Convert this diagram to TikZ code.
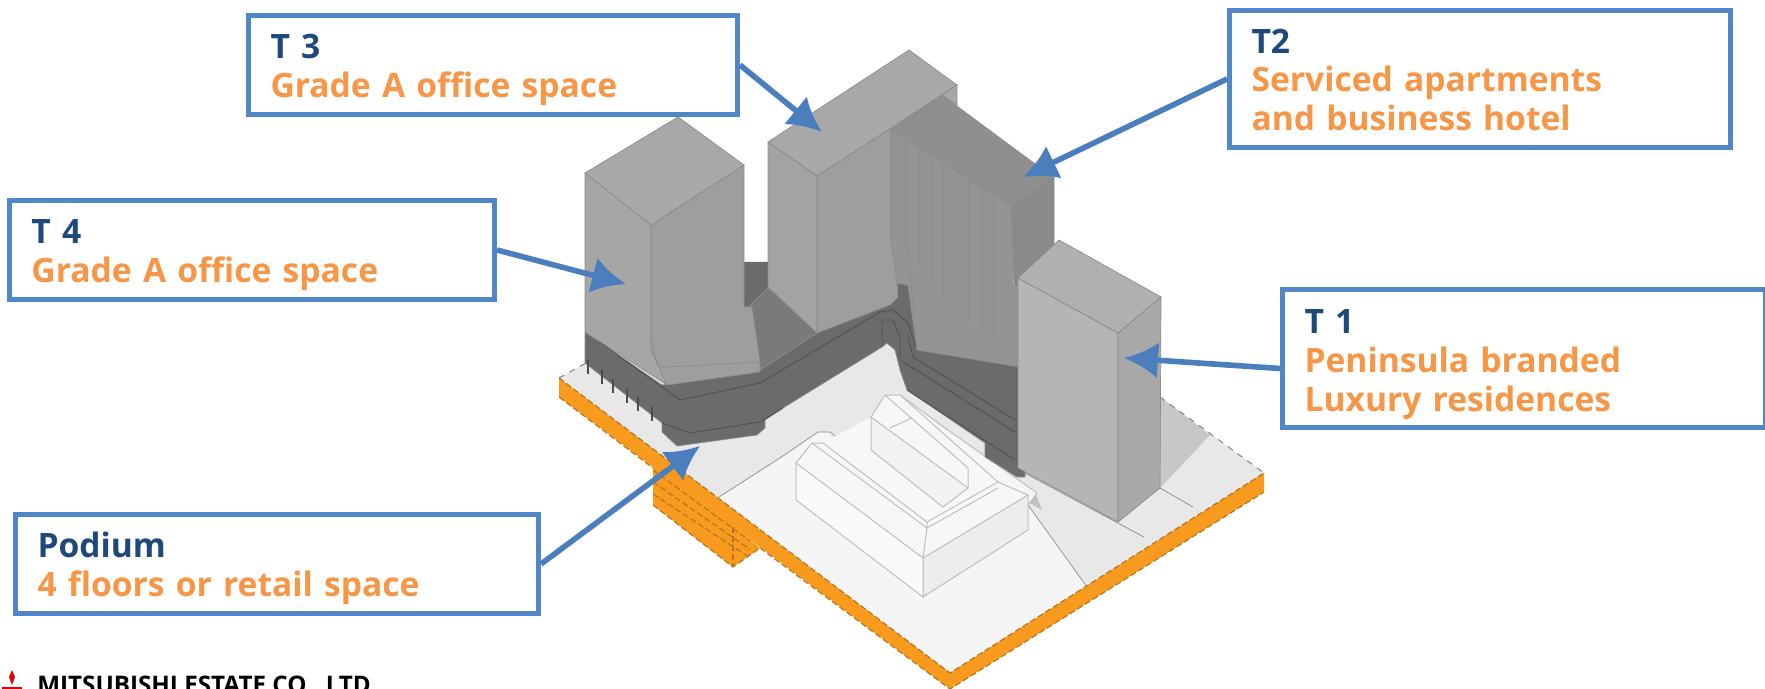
\documentclass[tikz,border=0pt]{standalone}
\usepackage{fontspec}
\setmainfont{Open Sans}
\usepackage{tikz}
\usetikzlibrary{arrows.meta}
\definecolor{boxblue}{HTML}{5087C8}
\definecolor{arrowblue}{HTML}{4A7EBD}
\definecolor{headblue}{HTML}{1F497D}
\definecolor{textorange}{HTML}{F79646}
\definecolor{plateorange}{HTML}{F79A1E}
\definecolor{dashbrown}{HTML}{B5771F}
\tikzset{
  callout/.style={draw=boxblue,line width=2.5pt,fill=white,anchor=north west,align=left,inner sep=0pt,
    text width=#1,font=\fontsize{16.8}{19.4}\selectfont\bfseries,text=textorange},
  pointer/.style={draw=arrowblue,line width=2.8pt,-{Latex[length=17pt,width=18pt]}},
  edge/.style={draw=black!45,line width=0.35pt},
  ledge/.style={draw=black!68,line width=0.45pt},
  block/.style={draw=black!25,line width=0.5pt},
  hem/.style={draw=dashbrown,line width=0.6pt,dash pattern=on 3pt off 1.5pt}
}
\begin{document}
\begin{tikzpicture}[x=0.5pt,y=-0.5pt]
\useasboundingbox (0,0) rectangle (1765,689);

% site plate
\fill[black!9] (559,378) -- (586,363) -- (883,320) -- (899,327) -- (1017,477) -- (1160,397) -- (1264,473) -- (950,673) -- cycle;
\fill[black!4] (719,497) -- (780,458) -- (818,432) -- (830,432) -- (843,443) -- (870,435) -- (948,430) -- (1037,493) -- (1028,505) -- (1087,587) -- (950,673) -- cycle;
\fill[black!22] (1160,397) -- (1210,435) -- (1160,488) -- cycle;
\fill[black!25] (1030,503) -- (1036,495) -- (1042,510) -- cycle;
\draw[black!50,dashed,line width=0.5pt] (559,378) -- (586,363);
\draw[black!50,dashed,line width=0.5pt] (1160,397) -- (1264,473);
\draw[edge] (1160,488) -- (1193,507);
\draw[edge] (1019,470) -- (1144,537);
\draw[edge] (719,497) -- (780,458) -- (818,432) -- (830,432) -- (843,443) -- (870,435);
\draw[edge] (1028,505) -- (1087,587);

% orange edge and tab
\fill[plateorange] (653,462) -- (653,505) -- (733,567) -- (760,548) -- cycle;
\fill[plateorange] (559,378) -- (950,673) -- (1264,473) -- (1264,492) -- (950,689) -- (559,397) -- cycle;
\draw[hem] (559,378) -- (950,673) -- (1264,473);
\draw[hem] (559,397) -- (653,468);
\draw[hem] (760,548) -- (950,689) -- (1264,492);
\draw[hem] (653,505) -- (733,567) -- (760,548);
\foreach \s in {0,12,24}
  \draw[hem] (653,470+\s) -- (750,{541+\s*0.7});
\draw[hem] (733,527) -- (733,567);

% centre building
\fill[white!97!black] (796,463) -- (812,443) -- (823,443) -- (871,417) -- (885,395) -- (900,395) -- (1028,495) -- (1028,530) -- (923,597) -- (796,500) -- cycle;
\filldraw[block,fill=black!7] (923,558) -- (1028,495) -- (1028,530) -- (923,597) -- cycle;
\filldraw[block,fill=black!2] (796,463) -- (796,500) -- (923,597) -- (923,558) -- cycle;
\draw[block] (796,463) -- (812,443) -- (823,443) -- (927,522) -- (927,528) -- (923,558);
\draw[block] (812,443) -- (927,528);
\draw[block] (927,522) -- (998,482) -- (1028,495);
\draw[block] (927,528) -- (998,488);
\draw[block] (871,417) -- (885,395) -- (900,395) -- (998,482);
\filldraw[block,fill=black!5] (871,417) -- (871,450) -- (943,507) -- (968,488) -- cycle;
\draw[block] (885,395) -- (968,468) -- (968,488);
\draw[block] (890,428) -- (912,418);
\draw[block] (900,395) -- (948,430) -- (1037,493) -- (1028,505);

% podium
\filldraw[edge,fill=black!58] (585,332) -- (662,385) -- (760,368) -- (817,333) -- (897,283) -- (908,285) -- (917,350) -- (1025,365) -- (1025,477) -- (1017,477) -- (985,457) -- (985,443) -- (907,390) -- (900,370) -- (895,350) -- (887,343) -- (882,347) -- (783,408) -- (765,420) -- (765,428) -- (757,435) -- (677,446) -- (662,432) -- (662,423) -- (585,363) -- cycle;
\draw[ledge] (597,340) -- (680,400) -- (760,383) -- (880,312) -- (893,310) -- (908,323) -- (917,350);
\draw[ledge] (662,423) -- (690,433) -- (760,422) -- (783,408);
\draw[ledge] (882,347) -- (882,320) -- (893,320) -- (900,337) -- (900,360) -- (1015,432);
\draw[ledge] (908,337) -- (913,357) -- (1015,420);
\draw[ledge] (907,390) -- (1015,460);
\foreach \x/\y in {588/368,602/378,613/387,627/397,638/405,652/415}
  \draw[black!70,line width=0.6pt] (\x,\y-8) -- (\x,\y+6);

% terraces
\fill[black!58] (740,262) -- (770,262) -- (770,290) -- (755,310) -- (740,310) -- cycle;
\filldraw[edge,fill=black!52] (745,310) -- (768,288) -- (815,322) -- (817,333) -- (760,370) -- (755,340) -- cycle;

% tower 3
\filldraw[edge,fill=black!36] (768,142) -- (817,176) -- (817,333) -- (768,287) -- cycle;
\filldraw[edge,fill=black!38] (817,176) -- (942,95) -- (891,130) -- (891,240) -- (897,283) -- (898,297) -- (890,305) -- (817,333) -- cycle;
\filldraw[edge,fill=black!34] (768,142) -- (909,50) -- (957,85) -- (817,176) -- cycle;
\filldraw[edge,fill=black!34] (942,95) -- (957,85) -- (957,105) -- cycle;

% tower 2
\filldraw[edge,fill=black!42] (891,130) -- (1011,205) -- (1013,285) -- (1025,285) -- (1025,368) -- (917,350) -- (908,285) -- (897,283) -- (891,240) -- cycle;
\filldraw[edge,fill=black!46] (1011,205) -- (1054,178) -- (1054,250) -- (1025,290) -- (1014,285) -- cycle;
\filldraw[edge,fill=black!44] (891,130) -- (942,95) -- (1054,178) -- (1011,205) -- cycle;
\foreach \x/\y in {905/247,919/267,931/283,943/298,957/312,968/323,982/332,993/340}
  \draw[edge] (\x,{130+(\x-891)*0.625}) -- (\x,\y);
\draw[edge] (908,250) -- (917,350);

% tower 4
\filldraw[edge,fill=black!35] (585,173) -- (651,225) -- (651,350) -- (667,385) -- (585,332) -- cycle;
\filldraw[edge,fill=black!38] (651,225) -- (744,165) -- (744,307) -- (752,307) -- (760,362) -- (760,372) -- (667,385) -- (651,350) -- cycle;
\filldraw[edge,fill=black!34] (585,173) -- (678,117) -- (744,165) -- (651,225) -- cycle;
\draw[edge] (653,340) .. controls (654,358) and (656,368) .. (667,367) -- (760,362);

% tower 1
\filldraw[edge,fill=black!29] (1018,278) -- (1118,333) -- (1118,522) -- (1018,468) -- cycle;
\filldraw[edge,fill=black!34] (1118,333) -- (1161,297) -- (1160,488) -- (1118,522) -- cycle;
\filldraw[edge,fill=black!31] (1018,278) -- (1059,240) -- (1161,297) -- (1118,333) -- cycle;

% logo
\fill[red!90!black] (12,670) -- (15,677) -- (12,685) -- (9,677) -- cycle;
\fill[red!90!black] (2,687) rectangle (22,689);
\node[anchor=north west,inner sep=0pt,font=\fontsize{12.1}{14}\selectfont\bfseries] (logo) at (37,676) {MITSUBISHI ESTATE CO., LTD.};

% labels
\node[callout=489pt/2,minimum height=99pt/2] (t3box) at (246,13) {\hspace{11pt}\parbox{228pt}{\vspace*{5pt}\textcolor{headblue}{T 3}\\Grade A office space}};
\node[callout=501pt/2,minimum height=137pt/2] (t2box) at (1227,8) {\hspace{11pt}\parbox{235pt}{\vspace*{1pt}\textcolor{headblue}{T2}\\Serviced apartments\\and business hotel}};
\node[callout=485pt/2,minimum height=99pt/2] (t4box) at (7,198) {\hspace{11pt}\parbox{228pt}{\vspace*{5pt}\textcolor{headblue}{T 4}\\Grade A office space}};
\node[callout=483pt/2,minimum height=138pt/2] (t1box) at (1280,287) {\hspace{11pt}\parbox{228pt}{\vspace*{6pt}\textcolor{headblue}{T 1}\\Peninsula branded\\Luxury residences}};
\node[callout=523pt/2,minimum height=99pt/2] (podbox) at (13,512) {\hspace{11pt}\parbox{240pt}{\vspace*{4pt}\textcolor{headblue}{Podium}\\4 floors or retail space}};

\coordinate (t3tip) at (822,132);
\coordinate (t2tip) at (1023,177);
\coordinate (t4tip) at (626,284);
\coordinate (t1tip) at (1124,358);
\coordinate (podtip) at (700,446);

\draw[pointer] (t3box.east) -- (t3tip);
\draw[pointer] (t2box.west) -- (t2tip);
\draw[pointer] (t4box.east) -- (t4tip);
\draw[pointer] ([yshift=-5pt]t1box.west) -- (t1tip);
\draw[pointer] (podbox.east) -- (podtip);
\end{tikzpicture}
\end{document}
